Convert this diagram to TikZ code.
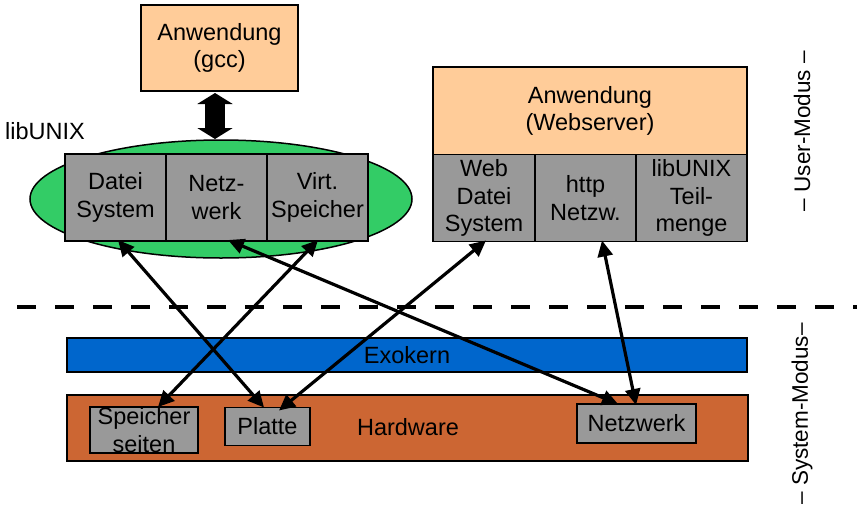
\documentclass[tikz,border=0pt]{standalone}
\usepackage{fontspec}
\setmainfont{Liberation Sans}
\usetikzlibrary{arrows.meta,shapes.geometric,calc}
\definecolor{peach}{RGB}{255,204,153}
\definecolor{libgreen}{RGB}{51,204,102}
\definecolor{boxgray}{RGB}{153,153,153}
\definecolor{exoblue}{RGB}{0,102,204}
\definecolor{hwbrown}{RGB}{204,102,51}
\begin{document}
\begin{tikzpicture}[x=1pt,y=-1pt,
  every node/.style={font=\fontsize{23.5}{27.5}\selectfont, inner sep=0pt, outer sep=0pt},
  appbox/.style={draw=black, line width=1.5pt, fill=peach, align=center},
  graybox/.style={draw=black, line width=1.5pt, fill=boxgray, align=center},
  bar/.style={draw=black, line width=1.2pt},
  link/.style={line width=3.2pt, {Triangle[length=16pt,width=15pt]}-{Triangle[length=16pt,width=15pt]}},
  modlabel/.style={rotate=90, font=\fontsize{22.5}{26}\selectfont}]
\useasboundingbox (0,0) rectangle (857,512);
% top-left application
\node[appbox, minimum width=157pt, minimum height=86pt] (gcc) at (219.5,48) {Anwendung\\(gcc)};
\node[draw=black, line width=1.5pt, fill=libgreen, ellipse, minimum width=382pt, minimum height=118pt] (lib) at (221,199) {};
\node (libl) at (45,131) {libUNIX};
\node[graybox, minimum width=101pt, minimum height=87pt] (ds) at (115.5,197.5) {Datei\\System};
\node[graybox, minimum width=101pt, minimum height=87pt] (nw) at (216.5,197.5) {Netz-\\werk};
\node[graybox, minimum width=101pt, minimum height=87pt] (vs) at (317.5,197.5) {Virt.\\Speicher};
% fat double arrow
\draw[line width=20pt, {Triangle[length=11pt,width=35pt]}-{Triangle[length=11pt,width=35pt]}] ([xshift=-4.5pt,yshift=-2pt]gcc.south) -- ([xshift=-6pt,yshift=1pt]lib.north);
% webserver
\node[appbox, minimum width=314pt, minimum height=88pt] (web) at (590,111) {Anwendung\\(Webserver)};
\node[graybox, minimum width=102pt, minimum height=87pt] (wds) at (484,198) {Web\\Datei\\System};
\node[graybox, minimum width=101pt, minimum height=87pt] (http) at (585.5,198) {http\\Netzw.};
\node[graybox, minimum width=111pt, minimum height=87pt] (tm) at (691.5,198) {libUNIX\\Teil-\\menge};
% separator
\coordinate (dl) at (17,307);
\coordinate (dr) at (857,307);
\draw[line width=4pt, dash pattern=on 19pt off 19pt] (dl) -- (dr);
% kernel and hardware
\node[bar, fill=exoblue, minimum width=680pt, minimum height=34pt] (exo) at (407,355) {Exokern};
\node[bar, fill=hwbrown, minimum width=681pt, minimum height=66pt] (hw) at (407.5,428) {};
\node (hwl) at (408,427) {Hardware};
\node[graybox, minimum width=108pt, minimum height=46pt] (sp) at (144,430) {Speicher\\seiten};
\node[graybox, minimum width=85pt, minimum height=38pt] (pl) at (267.5,426.5) {Platte};
\node[graybox, minimum width=119pt, minimum height=39pt] (nz) at (636.5,423.5) {Netzwerk};
% links
\draw[link] ([xshift=2.5pt,yshift=1pt]ds.south) -- ([xshift=-3.5pt]pl.north);
\draw[link] ([xshift=0.5pt,yshift=1pt]vs.south) -- ([xshift=14pt]sp.north);
\draw[link] ([xshift=11.5pt,yshift=1pt]nw.south) -- ([xshift=-18.5pt]nz.north);
\draw[link] ([xshift=2pt,yshift=1pt]wds.south) -- ([xshift=11.5pt,yshift=-3pt]pl.north);
\draw[link] ([xshift=16.5pt,yshift=1pt]http.south) -- ([xshift=-0.5pt,yshift=-1pt]nz.north);
% mode labels
\node[modlabel] (um) at (802,131) {– User-Modus –};
\node[modlabel] (sm) at (802,414) {– System-Modus–};
\end{tikzpicture}
\end{document}
